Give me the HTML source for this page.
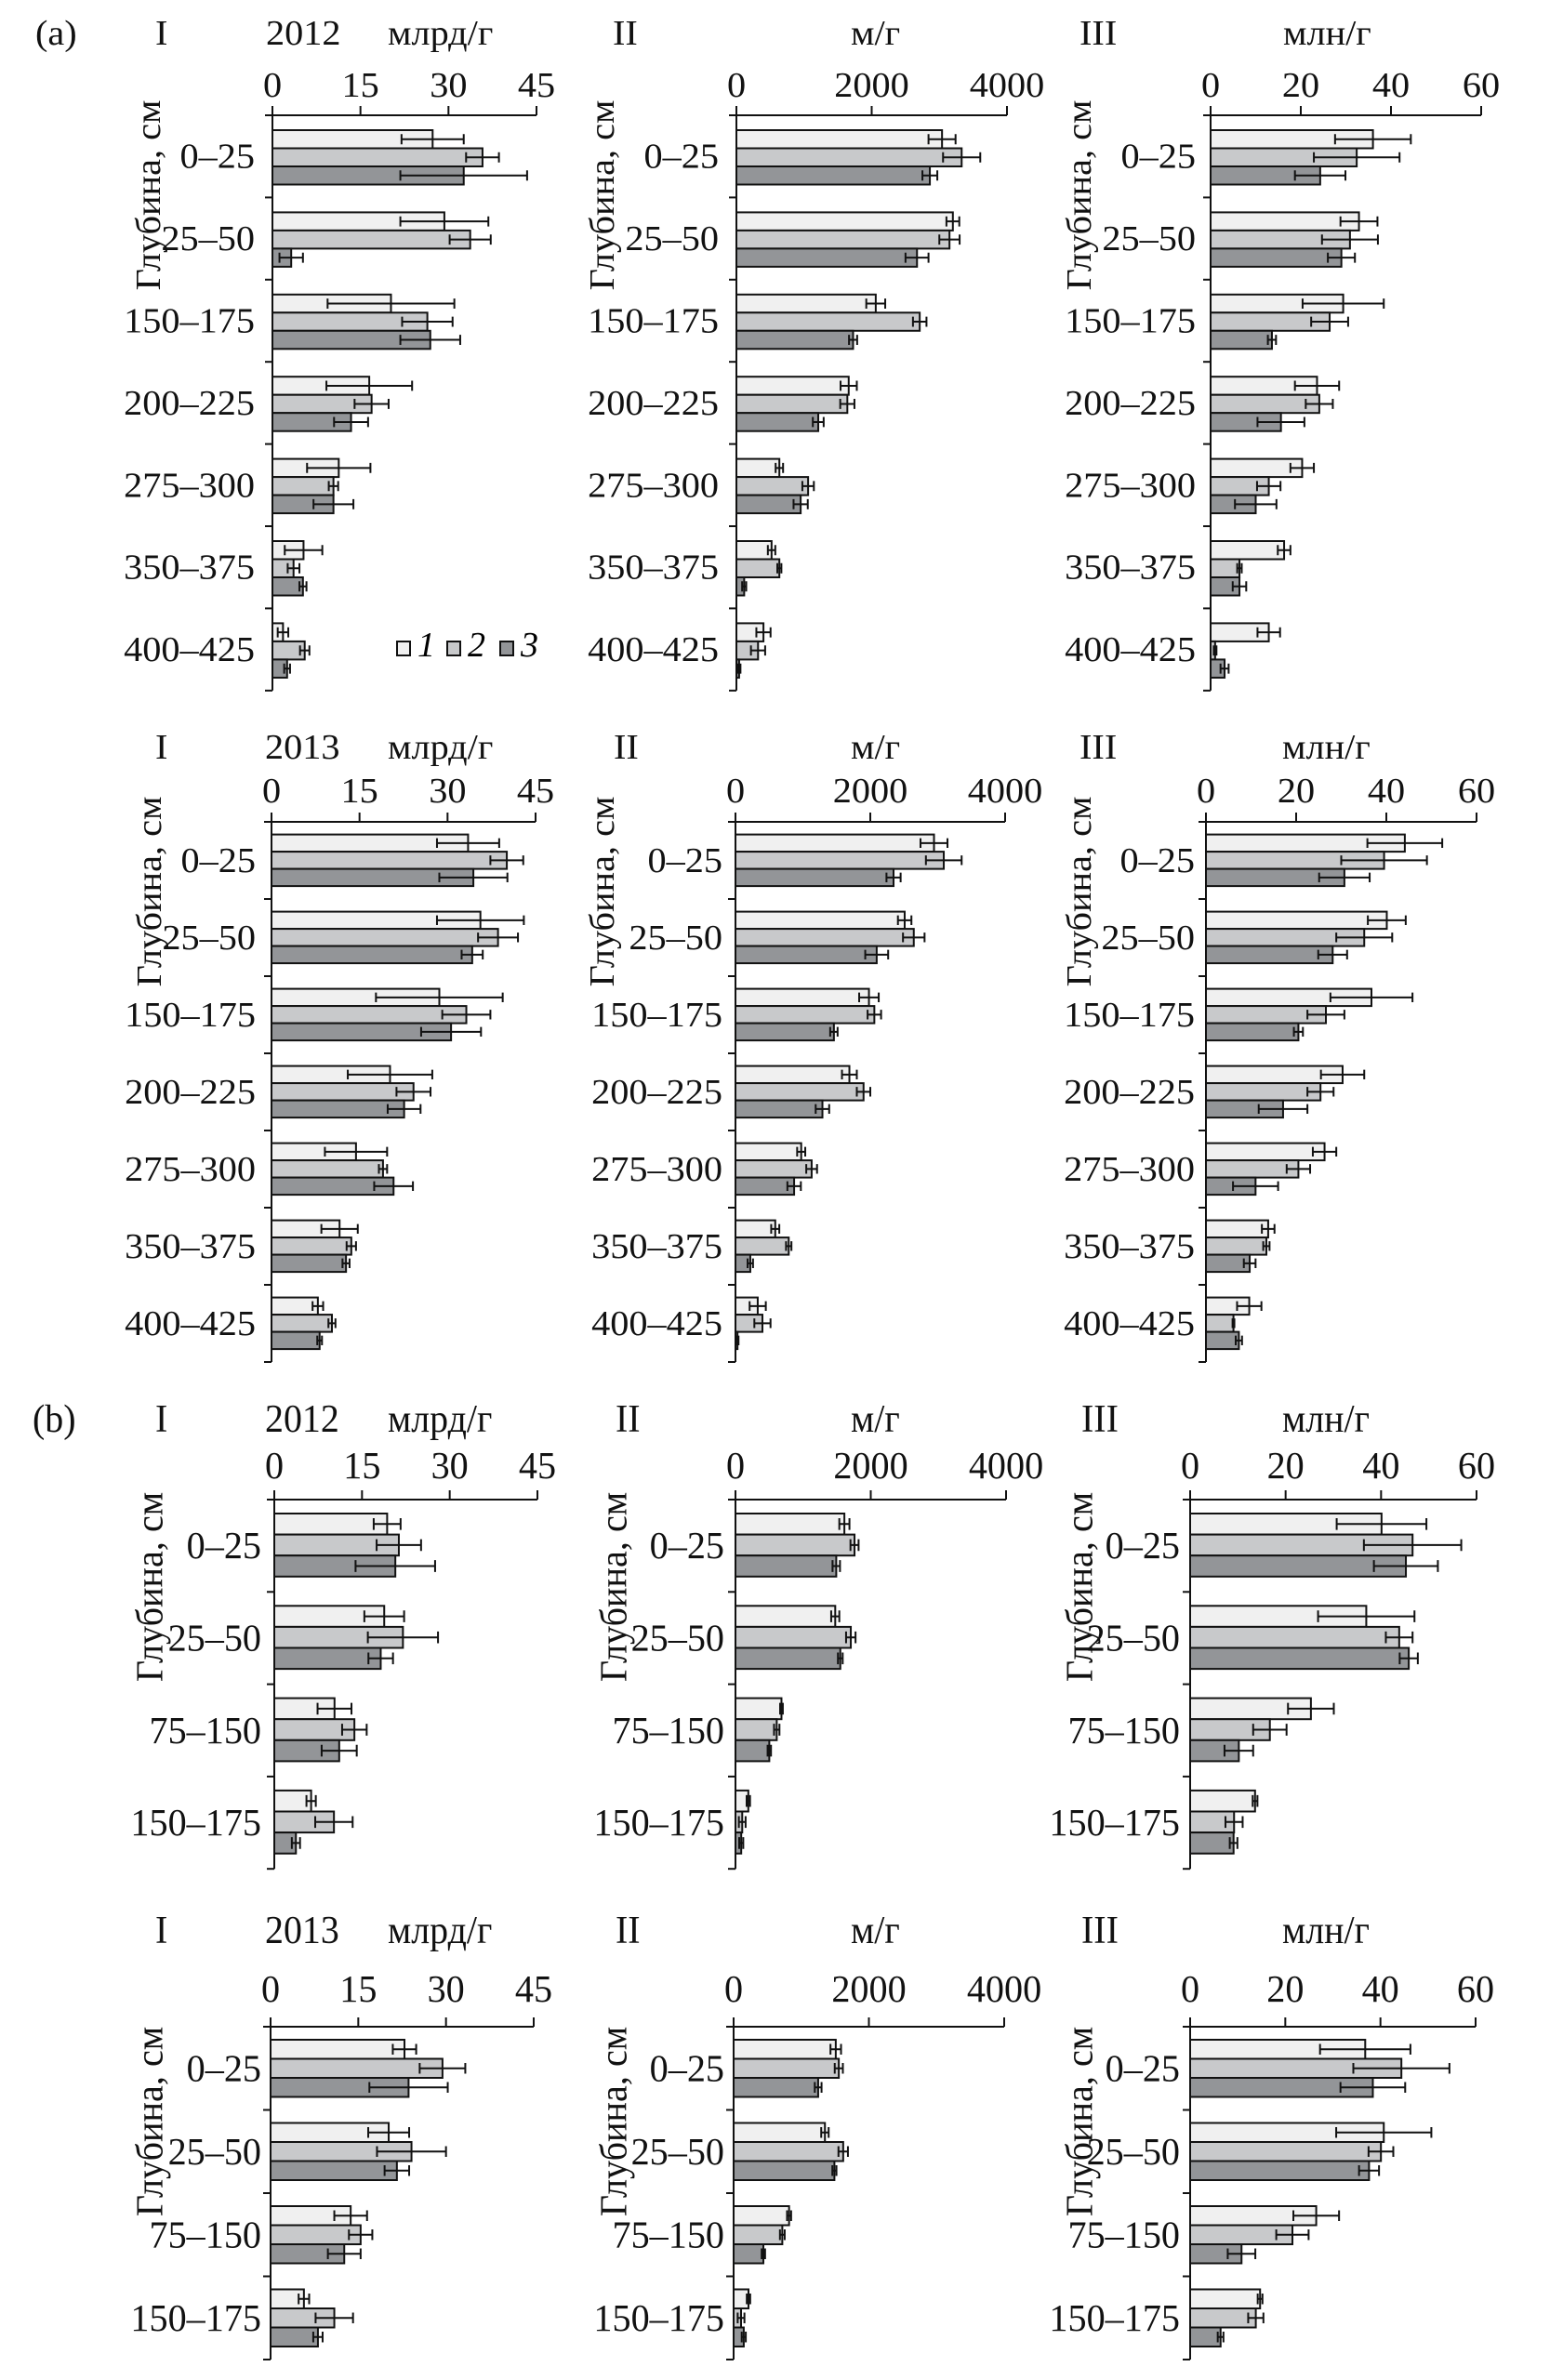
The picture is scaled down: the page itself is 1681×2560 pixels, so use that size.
<!DOCTYPE html>
<html><head><meta charset="utf-8"><style>
html,body{margin:0;padding:0;background:#fff;}
svg{display:block;font-family:"Liberation Serif","DejaVu Serif",serif;}
</style></head><body>
<svg id="chart" width="1681" height="2560" viewBox="0 0 1681 2560" xmlns="http://www.w3.org/2000/svg">
<rect width="1681" height="2560" fill="#fff"/>
<g id="titles" font-size="38" fill="#111">
<text transform="translate(38,48) scale(1.06,1)">(a)</text>
<text transform="translate(167,48) scale(1.06,1)">I</text>
<text transform="translate(286,48) scale(1.06,1)">2012</text>
<text transform="translate(417,48) scale(1.06,1)">млрд/г</text>
<text transform="translate(659,48) scale(1.06,1)">II</text>
<text transform="translate(915,48) scale(1.06,1)">м/г</text>
<text transform="translate(1161,48) scale(1.06,1)">III</text>
<text transform="translate(1380,48) scale(1.06,1)">млн/г</text>
<text transform="translate(167,816) scale(1.06,1)">I</text>
<text transform="translate(285,816) scale(1.06,1)">2013</text>
<text transform="translate(417,816) scale(1.06,1)">млрд/г</text>
<text transform="translate(660,816) scale(1.06,1)">II</text>
<text transform="translate(915,816) scale(1.06,1)">м/г</text>
<text transform="translate(1161,816) scale(1.06,1)">III</text>
<text transform="translate(1379,816) scale(1.06,1)">млн/г</text>
</g>
<g id="titlesB" font-size="42" fill="#111">
<text transform="translate(35,1540) scale(0.95,1)">(b)</text>
<text transform="translate(167,1540) scale(0.95,1)">I</text>
<text transform="translate(285,1540) scale(0.95,1)">2012</text>
<text transform="translate(417,1540) scale(0.95,1)">млрд/г</text>
<text transform="translate(662,1540) scale(0.95,1)">II</text>
<text transform="translate(915,1540) scale(0.95,1)">м/г</text>
<text transform="translate(1163,1540) scale(0.95,1)">III</text>
<text transform="translate(1379,1540) scale(0.95,1)">млн/г</text>
<text transform="translate(167,2090) scale(0.95,1)">I</text>
<text transform="translate(285,2090) scale(0.95,1)">2013</text>
<text transform="translate(417,2090) scale(0.95,1)">млрд/г</text>
<text transform="translate(662,2090) scale(0.95,1)">II</text>
<text transform="translate(915,2090) scale(0.95,1)">м/г</text>
<text transform="translate(1163,2090) scale(0.95,1)">III</text>
<text transform="translate(1379,2090) scale(0.95,1)">млн/г</text>
</g>
<g id="legend" font-size="38" font-style="italic">
<rect x="427" y="690" width="14" height="15" fill="#f0f0f0" stroke="#111" stroke-width="2"/>
<text x="449" y="706">1</text>
<rect x="481" y="690" width="14" height="15" fill="#c8c9cb" stroke="#111" stroke-width="2"/>
<text x="503" y="706">2</text>
<rect x="538" y="690" width="14" height="15" fill="#939598" stroke="#111" stroke-width="2"/>
<text x="560" y="706">3</text>
</g>
</svg>
<script>
const catsA = ['0–25','25–50','150–175','200–225','275–300','350–375','400–425'];
const catsB = ['0–25','25–50','75–150','150–175'];
const ticksI = [0,15,30,45];
const ticksII = [0,2000,4000];
const ticksIII = [0,20,40,60];

const A12_I_v1 = [27.3,29.3,20.2,16.5,11.3,5.3,1.8];
const A12_I_v2 = [35.8,33.7,26.4,16.9,10.4,3.6,5.5];
const A12_I_v3 = [32.6,3.2,26.9,13.4,10.4,5.2,2.5];
const A12_I_e1 = [5.3,7.5,10.8,7.3,5.4,3.2,0.9];
const A12_I_e2 = [2.8,3.5,4.3,2.9,0.8,1.0,0.8];
const A12_I_e3 = [10.8,2.0,5.1,2.9,3.4,0.6,0.5];

const A12_II_v1 = [3040,3200,2060,1660,635,520,400];
const A12_II_v2 = [3330,3150,2710,1640,1060,635,320];
const A12_II_v3 = [2860,2670,1725,1210,950,115,40];
const A12_II_e1 = [200,95,140,120,55,55,105];
const A12_II_e2 = [275,150,100,105,85,30,105];
const A12_II_e3 = [110,170,60,80,105,30,20];

const A12_III_v1 = [36,32.9,29.4,23.6,20.3,16.3,12.9];
const A12_III_v2 = [32.4,30.9,26.4,24.1,12.9,6.4,1];
const A12_III_v3 = [24.3,29,13.6,15.6,10,6.4,3.1];
const A12_III_e1 = [8.4,4.1,9,4.9,2.6,1.4,2.5];
const A12_III_e2 = [9.5,6.2,4.1,3,2.6,0.5,0.3];
const A12_III_e3 = [5.6,3,0.9,5.2,4.6,1.5,0.9];

const A13_I_v1 = [33.5,35.6,28.6,20.2,14.4,11.6,7.9];
const A13_I_v2 = [40.1,38.6,33.2,24.2,19,13.6,10.3];
const A13_I_v3 = [34.4,34.2,30.6,22.6,20.8,12.7,8.2];
const A13_I_e1 = [5.3,7.4,10.8,7.2,5.3,3.1,0.9];
const A13_I_e2 = [2.8,3.4,4.1,2.9,0.7,0.8,0.6];
const A13_I_e3 = [5.8,1.8,5.1,2.8,3.3,0.6,0.4];

const A13_II_v1 = [2945,2510,1980,1690,975,590,330];
const A13_II_v2 = [3090,2645,2060,1900,1130,790,400];
const A13_II_v3 = [2345,2095,1460,1290,870,220,30];
const A13_II_e1 = [200,100,145,110,60,60,120];
const A13_II_e2 = [265,160,100,100,80,40,120];
const A13_II_e3 = [105,170,55,100,100,40,15];

const A13_III_v1 = [44.1,40.1,36.7,30.3,26.3,13.8,9.6];
const A13_III_v2 = [39.5,35.1,26.6,25.4,20.5,13.4,6.1];
const A13_III_v3 = [30.7,28.1,20.5,17.1,11,9.7,7.3];
const A13_III_e1 = [8.3,4.2,9.1,4.8,2.6,1.4,2.7];
const A13_III_e2 = [9.5,6.2,4.1,2.9,2.6,0.7,0.2];
const A13_III_e3 = [5.6,3.2,1,5.4,5,1.3,0.7];

const B12_I_v1 = [19.3,18.8,10.3,6.3];
const B12_I_v2 = [21.3,22,13.7,10.2];
const B12_I_v3 = [20.7,18.2,11.1,3.7];
const B12_I_e1 = [2.3,3.4,2.9,0.8];
const B12_I_e2 = [3.8,6,2.1,3.2];
const B12_I_e3 = [6.8,2.1,3,0.7];

const B12_II_v1 = [1610,1475,680,190];
const B12_II_v2 = [1760,1705,610,100];
const B12_II_v3 = [1490,1550,500,85];
const B12_II_e1 = [75,60,20,25];
const B12_II_e2 = [60,70,40,50];
const B12_II_e3 = [55,35,25,30];

const B12_III_v1 = [40.1,36.9,25.3,13.6];
const B12_III_v2 = [46.6,43.8,16.7,9.2];
const B12_III_v3 = [45.2,45.8,10.2,9.1];
const B12_III_e1 = [9.4,10.1,4.8,0.5];
const B12_III_e2 = [10.2,2.8,3.5,1.8];
const B12_III_e3 = [6.7,1.9,3,0.8];

const B13_I_v1 = [22.9,20.2,13.7,5.7];
const B13_I_v2 = [29.4,24.1,15.4,10.9];
const B13_I_v3 = [23.6,21.6,12.6,8.1];
const B13_I_e1 = [2,3.5,2.8,0.9];
const B13_I_e2 = [3.9,5.9,2,3.2];
const B13_I_e3 = [6.7,2.1,2.8,0.8];

const B13_II_v1 = [1510,1350,820,220];
const B13_II_v2 = [1555,1620,720,110];
const B13_II_v3 = [1250,1490,440,150];
const B13_II_e1 = [78,55,30,25];
const B13_II_e2 = [60,70,35,50];
const B13_II_e3 = [50,30,25,30];

const B13_III_v1 = [36.8,40.7,26.5,14.7];
const B13_III_v2 = [44.4,40.1,21.5,13.8];
const B13_III_v3 = [38.4,37.6,10.8,6.4];
const B13_III_e1 = [9.5,10,4.8,0.5];
const B13_III_e2 = [10.1,2.6,3.4,1.6];
const B13_III_e3 = [6.8,2.1,2.9,0.6];

const NS = 'http://www.w3.org/2000/svg';
const svg = document.getElementById('chart');
const fills = ['#f0f0f0','#c8c9cb','#939598'];

function mk(tag, attrs, parent) {
  const el = document.createElementNS(NS, tag);
  for (const k in attrs) el.setAttribute(k, attrs[k]);
  parent.appendChild(el);
  return el;
}

function panel(p) {
  const g = mk('g', {}, svg);
  
  
  const max = p.ticks[p.ticks.length - 1];
  const xs = v => p.x0 + (v / max) * (p.x1 - p.x0);
  const n = p.cats.length;
  const yBottom = p.axisY + n * p.pitch;
  const sx = p.cond ? 0.98 : 1.06;
  const fs = p.cond ? 41 : 38;
  const xa = mk('line', {x1: p.x0, y1: p.axisY, x2: p.x1, y2: p.axisY, stroke: '#111', 'stroke-width': 2}, g);
  
  
  p.ticks.forEach(t => {
    const x = xs(t);
    const tk = mk('line', {x1: x, y1: p.axisY, x2: x, y2: p.axisY - 10, stroke: '#111', 'stroke-width': 2}, g);
    
    
    const tl = mk('text', {transform: 'translate(' + x + ',' + p.tickY + ') scale(' + sx + ',1)', 'text-anchor': 'middle', 'font-size': fs, fill: '#111'}, g);
    tl.textContent = String(t);
    
    
  });
  const ya = mk('line', {x1: p.x0, y1: p.axisY, x2: p.x0, y2: yBottom, stroke: '#111', 'stroke-width': 2}, g);
  
  
  for (let i = 0; i <= n; i++) {
    const y = p.axisY + i * p.pitch;
    const yt = mk('line', {x1: p.x0 - 8, y1: y, x2: p.x0, y2: y, stroke: '#111', 'stroke-width': 2}, g);
    
    
  }
  const yl = mk('text', {transform: 'translate(' + p.ylabX + ',' + (p.axisY + p.ylabOff) + ') rotate(-90) scale(' + sx + ',1)', 'text-anchor': 'middle', 'dominant-baseline': 'central', 'font-size': fs, fill: '#111'}, g);
  yl.textContent = 'Глубина, см';
  
  
  p.cats.forEach((c, i) => {
    const gy = p.axisY + i * p.pitch;
    const cl = mk('text', {transform: 'translate(' + p.labR + ',' + (gy + p.pitch / 2 + fs * 0.33) + ') scale(' + sx + ',1)', 'text-anchor': 'end', 'font-size': fs, fill: '#111'}, g);
    cl.textContent = c;
    
    
    for (let s = 0; s < 3; s++) {
      const v = p.vals[s][i], e = p.errs[s][i];
      const by = gy + p.pad + s * p.barH;
      const r = mk('rect', {x: p.x0, y: by, width: Math.max(0, xs(v) - p.x0), height: p.barH, fill: fills[s], stroke: '#111', 'stroke-width': 2}, g);
      
      
      const cy = by + p.barH / 2;
      const lo = xs(Math.max(0, v - e)), hi = xs(v + e);
      const ch = p.barH * 0.28;
      const eb = mk('path', {d: 'M' + lo + ' ' + cy + 'H' + hi + 'M' + lo + ' ' + (cy - ch) + 'V' + (cy + ch) + 'M' + hi + ' ' + (cy - ch) + 'V' + (cy + ch), stroke: '#111', 'stroke-width': 2, fill: 'none'}, g);
      
      
    }
  });
}

const A12 = {axisY: 124, tickY: 104, pitch: 88.4, pad: 16, barH: 19.5, ylabOff: 86, cats: catsA, cond: false};
const A13 = {axisY: 884, tickY: 863, pitch: 83, pad: 13.6, barH: 18.5, ylabOff: 75, cats: catsA, cond: false};
const B12 = {axisY: 1613, tickY: 1590, pitch: 99.3, pad: 15, barH: 22.6, ylabOff: 94, cats: catsB, cond: true};
const B13 = {axisY: 2180, tickY: 2153, pitch: 89.5, pad: 14, barH: 20.5, ylabOff: 102, cats: catsB, cond: true};

panel(Object.assign({}, A12, {id: 'a12-I', x0: 293, x1: 577, ticks: ticksI, labR: 274, ylabX: 160, vals: [A12_I_v1, A12_I_v2, A12_I_v3], errs: [A12_I_e1, A12_I_e2, A12_I_e3]}));
panel(Object.assign({}, A12, {id: 'a12-II', x0: 792, x1: 1083, ticks: ticksII, labR: 773, ylabX: 648, vals: [A12_II_v1, A12_II_v2, A12_II_v3], errs: [A12_II_e1, A12_II_e2, A12_II_e3]}));
panel(Object.assign({}, A12, {id: 'a12-III', x0: 1302, x1: 1593, ticks: ticksIII, labR: 1286, ylabX: 1161, vals: [A12_III_v1, A12_III_v2, A12_III_v3], errs: [A12_III_e1, A12_III_e2, A12_III_e3]}));
panel(Object.assign({}, A13, {id: 'a13-I', x0: 292, x1: 576, ticks: ticksI, labR: 275, ylabX: 161, vals: [A13_I_v1, A13_I_v2, A13_I_v3], errs: [A13_I_e1, A13_I_e2, A13_I_e3]}));
panel(Object.assign({}, A13, {id: 'a13-II', x0: 791, x1: 1081, ticks: ticksII, labR: 777, ylabX: 648, vals: [A13_II_v1, A13_II_v2, A13_II_v3], errs: [A13_II_e1, A13_II_e2, A13_II_e3]}));
panel(Object.assign({}, A13, {id: 'a13-III', x0: 1297, x1: 1588, ticks: ticksIII, labR: 1285, ylabX: 1161, vals: [A13_III_v1, A13_III_v2, A13_III_v3], errs: [A13_III_e1, A13_III_e2, A13_III_e3]}));
panel(Object.assign({}, B12, {id: 'b12-I', x0: 295, x1: 578, ticks: ticksI, labR: 281, ylabX: 161, vals: [B12_I_v1, B12_I_v2, B12_I_v3], errs: [B12_I_e1, B12_I_e2, B12_I_e3]}));
panel(Object.assign({}, B12, {id: 'b12-II', x0: 791, x1: 1082, ticks: ticksII, labR: 779, ylabX: 660, vals: [B12_II_v1, B12_II_v2, B12_II_v3], errs: [B12_II_e1, B12_II_e2, B12_II_e3]}));
panel(Object.assign({}, B12, {id: 'b12-III', x0: 1280, x1: 1588, ticks: ticksIII, labR: 1269, ylabX: 1161, vals: [B12_III_v1, B12_III_v2, B12_III_v3], errs: [B12_III_e1, B12_III_e2, B12_III_e3]}));
panel(Object.assign({}, B13, {id: 'b13-I', x0: 291, x1: 574, ticks: ticksI, labR: 281, ylabX: 161, vals: [B13_I_v1, B13_I_v2, B13_I_v3], errs: [B13_I_e1, B13_I_e2, B13_I_e3]}));
panel(Object.assign({}, B13, {id: 'b13-II', x0: 789, x1: 1080, ticks: ticksII, labR: 779, ylabX: 660, vals: [B13_II_v1, B13_II_v2, B13_II_v3], errs: [B13_II_e1, B13_II_e2, B13_II_e3]}));
panel(Object.assign({}, B13, {id: 'b13-III', x0: 1280, x1: 1587, ticks: ticksIII, labR: 1269, ylabX: 1161, vals: [B13_III_v1, B13_III_v2, B13_III_v3], errs: [B13_III_e1, B13_III_e2, B13_III_e3]}));
</script>
</body></html>
